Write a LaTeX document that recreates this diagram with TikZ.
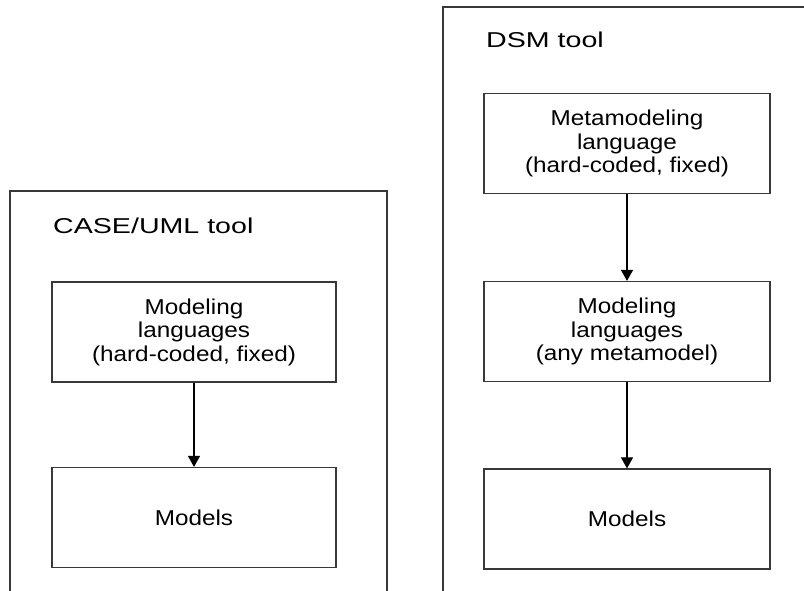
\documentclass[tikz,border=0pt]{standalone}
\usepackage{fontspec}
\setmainfont{Liberation Sans}[FakeStretch=1.13]
\newfontfamily\widesans{Liberation Sans}[FakeStretch=1.33]
\usetikzlibrary{arrows.meta}
\newcommand\boxfont{\fontsize{21.5}{23.5}\selectfont}
\newcommand\titlefont{\widesans\fontsize{21.5}{23.5}\selectfont}
\begin{document}
\begin{tikzpicture}[x=1pt,y=-1pt,
  frame/.style={draw=black!78, line width=1.2pt},
  unit/.style={draw=black!78, line width=1.2pt, inner sep=0pt,
    minimum width=#1, minimum height=100pt, align=center, font=\boxfont},
  flow/.style={draw=black, line width=1.1pt, -{Triangle[length=11pt,width=12pt]}},
  title/.style={anchor=base west, inner sep=0pt, font=\titlefont}]
  \useasboundingbox (0,0) rectangle (804,590);
  % tool frames (open at the bottom, right frame runs off the edge)
  \draw[frame] (10,592) -- (10,191) -- (387,191) -- (387,592);
  \draw[frame] (443,592) -- (443,7) -- (806,7);
  % CASE/UML tool
  \node[title] (casetitle) at (53,233) {CASE/UML tool};
  \node[unit=284pt] (caselang) at (194,332) {Modeling\\languages\\(hard-coded, fixed)};
  \node[unit=284pt] (casemodels) at (194,517.5) {Models};
  \draw[flow] (caselang) -- (casemodels);
  % DSM tool
  \node[title] (dsmtitle) at (486,47) {DSM tool};
  \node[unit=286pt] (dsmmeta) at (627,143.5) {Metamodeling\\language\\(hard-coded, fixed)};
  \node[unit=286pt] (dsmlang) at (627,331.5) {Modeling\\languages\\(any metamodel)};
  \node[unit=286pt] (dsmmodels) at (627,519) {Models};
  \draw[flow] (dsmmeta) -- (dsmlang);
  \draw[flow] (dsmlang) -- (dsmmodels);
\end{tikzpicture}
\end{document}
